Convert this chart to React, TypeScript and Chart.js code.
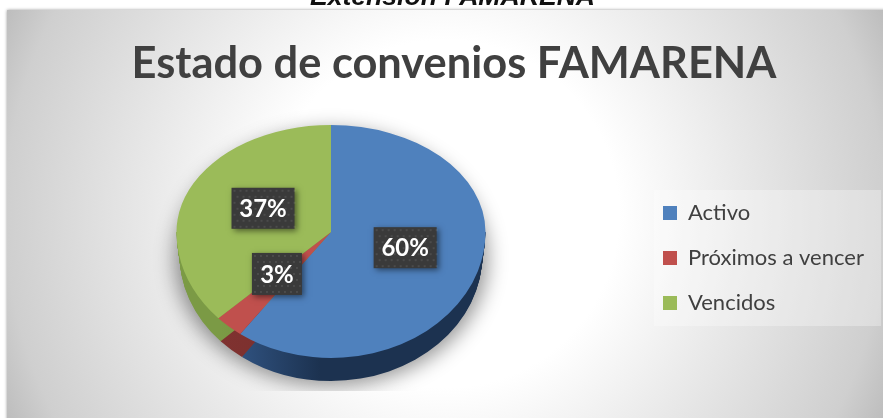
import React, { useEffect, useRef } from "react";
import { Chart, registerables } from "chart.js";

Chart.register(...registerables);

const categories = ["Activo", "Próximos a vencer", "Vencidos"];
const shares = [60, 3, 37];
const topColors = ["#4F81BD", "#C0504D", "#9BBB59"];
const wallColorsLight = ["#34598a", "#7f3230", "#7b9a45"];
const wallColorsDark = ["#1c3250", "#7a2e2c", "#6c8a38"];
const chartTitle = "Estado de convenios FAMARENA";
const pageCaption = "Extensión FAMARENA";

const TOP_SQUASH = 0.6926;
const FRONT_SQUASH = 0.8155;
const DEPTH = 23;
const APEX = { x: 331, y: 232 };
const LABEL_CY = 241.5;
const PANEL = { left: 7, top: 10 };
const LEGEND_PANEL = { left: 654, top: 190, width: 227, height: 136 };

// label box centres, in fractions of the pie radius from its centre
const labelPlaces = [
  { dx: 0.48, dy: 0.04, w: 63, h: 41 },
  { dx: -0.35, dy: 0.21, w: 50, h: 42 },
  { dx: -0.44, dy: -0.215, w: 63, h: 41 },
];

function applyPie(ctx: CanvasRenderingContext2D, cx: number, cy: number, k: number, xk = 1) {
  ctx.translate(APEX.x, APEX.y);
  ctx.scale(xk, k);
  ctx.translate(-cx, -cy);
}

function clipBand(ctx: CanvasRenderingContext2D, w: number, y0: number, y1: number) {
  ctx.beginPath();
  ctx.rect(0, y0, w, y1 - y0);
  ctx.clip();
}

const pie3d = {
  id: "pie3d",
  afterLayout(chart: any) {
    const { legend, titleBlock } = chart;
    titleBlock.left += 10;
    titleBlock.right += 10;
    const pad = legend.options.labels.padding;
    const size = legend.options.labels.font.size;
    legend.left = 663 - pad;
    legend.right = 881;
    legend.top = 213 - pad - size / 2;
    legend.bottom = legend.top + 400;
  },
  beforeDraw(chart: any) {
    const { ctx, width, height } = chart;
    ctx.save();
    const w = width - PANEL.left;
    const h = height - PANEL.top;
    const cx = PANEL.left + w / 2;
    const cy = PANEL.top + h / 2;
    const r = Math.hypot(w / 2, h / 2);
    const g = ctx.createRadialGradient(cx, cy, 0, cx, cy, r);
    g.addColorStop(0, "#ffffff");
    g.addColorStop(0.36, "#ffffff");
    g.addColorStop(0.62, "#e8e8e8");
    g.addColorStop(0.91, "#cfcfcf");
    g.addColorStop(1, "#bdbdbd");
    ctx.shadowColor = "rgba(0,0,0,0.4)";
    ctx.shadowBlur = 3;
    ctx.fillStyle = g;
    ctx.fillRect(PANEL.left, PANEL.top, w + 10, h + 10);
    ctx.shadowColor = "transparent";
    ctx.fillStyle = "rgba(255,255,255,0.3)";
    ctx.fillRect(LEGEND_PANEL.left, LEGEND_PANEL.top, LEGEND_PANEL.width, LEGEND_PANEL.height);
    ctx.restore();
  },
  beforeDatasetsDraw(chart: any) {
    const { ctx, width, height } = chart;
    const arcs = chart.getDatasetMeta(0).data;
    const { x, y, outerRadius } = arcs[0].getProps(["x", "y", "outerRadius"], true);
    // ground shadow: only the blur of an ellipse kept off the canvas is painted
    ctx.save();
    clipBand(ctx, width, 0, 391);
    ctx.shadowColor = "rgba(0,0,0,0.42)";
    ctx.shadowBlur = 20;
    ctx.shadowOffsetX = 3000;
    ctx.fillStyle = "#000";
    ctx.beginPath();
    ctx.ellipse(APEX.x - 3000, APEX.y + DEPTH + 3, outerRadius + 2, (outerRadius + 2) * FRONT_SQUASH, 0, 0, Math.PI * 2);
    ctx.fill();
    ctx.restore();
    // walls
    ctx.save();
    clipBand(ctx, width, APEX.y, height);
    arcs.forEach((arc: any, i: number) => {
      const { startAngle, endAngle } = arc.getProps(["startAngle", "endAngle"], true);
      const g = ctx.createLinearGradient(APEX.x - outerRadius * 0.75, 0, APEX.x - outerRadius * 0.1, 0);
      g.addColorStop(0, wallColorsLight[i]);
      g.addColorStop(1, wallColorsDark[i]);
      ctx.fillStyle = g;
      for (let d = DEPTH; d >= 0; d--) {
        ctx.save();
        ctx.translate(0, d);
        applyPie(ctx, x, y, FRONT_SQUASH, 1 - (0.02 * d) / DEPTH);
        ctx.beginPath();
        ctx.moveTo(x, y);
        ctx.arc(x, y, outerRadius, startAngle, endAngle);
        ctx.closePath();
        ctx.fill();
        ctx.restore();
      }
    });
    ctx.restore();
    // rear half of the top face
    ctx.save();
    clipBand(ctx, width, 0, APEX.y + 0.5);
    applyPie(ctx, x, y, TOP_SQUASH);
  },
  afterDatasetsDraw(chart: any) {
    const { ctx, width, height } = chart;
    ctx.restore();
    const meta = chart.getDatasetMeta(0);
    const { x, y, outerRadius } = meta.data[0].getProps(["x", "y", "outerRadius"], true);
    // front half of the top face
    ctx.save();
    clipBand(ctx, width, APEX.y, height);
    applyPie(ctx, x, y, FRONT_SQUASH);
    meta.controller.draw();
    ctx.restore();

    const total = shares.reduce((a, b) => a + b, 0);
    labelPlaces.forEach((p, i) => {
      const cx = APEX.x + p.dx * outerRadius;
      const cy = LABEL_CY + p.dy * outerRadius;
      const bx = cx - p.w / 2;
      const by = cy - p.h / 2;
      ctx.save();
      ctx.shadowColor = "rgba(0,0,0,0.5)";
      ctx.shadowBlur = 6;
      ctx.shadowOffsetX = 2;
      ctx.shadowOffsetY = 2;
      ctx.fillStyle = "#3a3a3a";
      ctx.fillRect(bx, by, p.w, p.h);
      ctx.shadowColor = "transparent";
      ctx.shadowBlur = 0;
      ctx.shadowOffsetX = 0;
      ctx.shadowOffsetY = 0;
      ctx.fillStyle = "rgba(255,255,255,0.09)";
      for (let yy = 2; yy < p.h; yy += 6) {
        for (let xx = 2 + (Math.round(yy / 6) % 2) * 3; xx < p.w; xx += 6) {
          ctx.fillRect(bx + xx, by + yy, 2, 2);
        }
      }
      ctx.fillStyle = "#ffffff";
      ctx.font = "bold 24px Lato, 'Open Sans', sans-serif";
      ctx.textAlign = "center";
      ctx.textBaseline = "middle";
      ctx.fillText(`${Math.round((shares[i] / total) * 100)}%`, cx, cy + 1);
      ctx.restore();
    });
  },
};

export default function App() {
  const ref = useRef<HTMLCanvasElement>(null);
  useEffect(() => {
    document.body.style.margin = "0";
    document.body.style.background = "#ffffff";
    const chart = new Chart(ref.current!, {
      type: "pie",
      data: {
        labels: categories,
        datasets: [
          {
            data: shares,
            backgroundColor: topColors,
            borderWidth: 0,
            radius: 154.5,
            clip: false,
          } as any,
        ],
      },
      options: {
        animation: false,
        responsive: false,
        events: [],
        layout: { padding: { left: 7, right: 2, top: 0, bottom: 0 } },
        plugins: {
          tooltip: { enabled: false },
          title: {
            display: true,
            text: chartTitle,
            color: "#404040",
            font: { family: "Lato, 'Open Sans', sans-serif", size: 43.4, weight: "bold" },
            padding: { top: 38, bottom: 20 },
          },
          legend: {
            display: true,
            position: "right",
            align: "start",
            labels: {
              boxWidth: 14,
              boxHeight: 14,
              color: "#404040",
              padding: 23,
              font: { family: "Lato, 'Open Sans', sans-serif", size: 22 },
            },
          },
        },
      } as any,
      plugins: [pie3d as any],
    });
    return () => chart.destroy();
  }, []);
  return (
    <div style={{ position: "relative", width: 883, height: 418, overflow: "hidden" }}>
      <canvas ref={ref} width={883} height={418} style={{ display: "block" }} />
      <div
        style={{
          position: "absolute",
          left: 0,
          width: 905,
          top: -17,
          height: 26,
          overflow: "hidden",
          textAlign: "center",
          font: "italic bold 26.6px 'Liberation Sans', Arial, sans-serif",
          color: "#111",
          lineHeight: "26.6px",
        }}
      >
        {pageCaption}
      </div>
    </div>
  );
}
